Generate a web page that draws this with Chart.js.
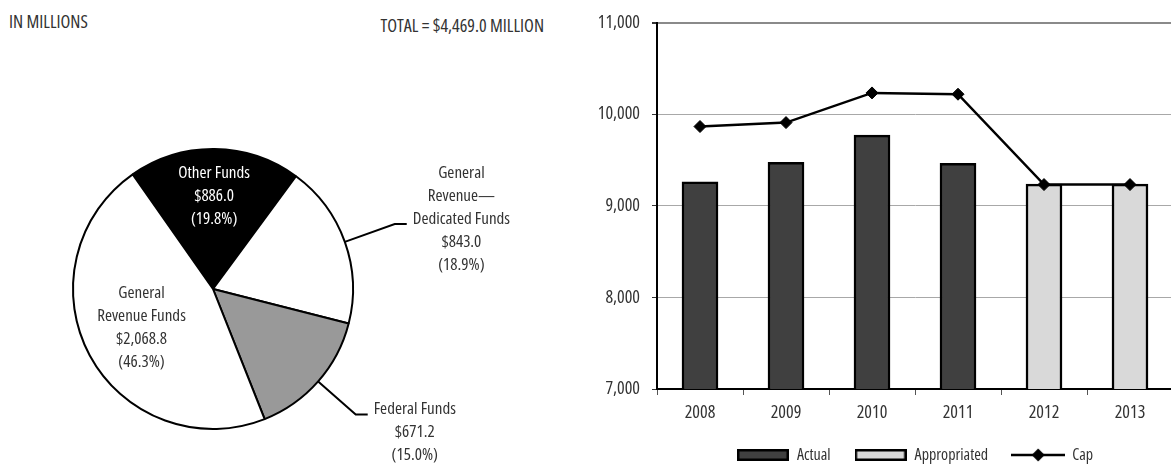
<!DOCTYPE html>
<html>
<head>
<meta charset="utf-8">
<script src="https://cdn.jsdelivr.net/npm/chart.js@4.4.1/dist/chart.umd.min.js"></script>
<style>
  html, body { margin:0; padding:0; background:#fff; overflow:hidden; width:1171px; height:465px; }
  #wrap { position:relative; width:1171px; height:465px; overflow:hidden; background:#fff; }
  canvas { position:absolute; }
  #pie { left:0; top:0; }
  #bar { left:580px; top:0; }
  .hd { position:absolute; font-family:'Open Sans',sans-serif; font-stretch:condensed; font-weight:500; font-size:18px; color:#333; white-space:nowrap; line-height:20px; }
</style>
</head>
<body>
<div id="wrap">
  <div class="hd" style="left:9px; top:11px;">IN MILLIONS</div>
  <div class="hd" id="total" style="right:627px; top:15px;"></div>
  <canvas id="pie" width="580" height="465"></canvas>
  <canvas id="bar" width="600" height="473"></canvas>
</div>
<script>
// ---------- DATA ----------
const pieCategories = ['Other Funds', 'General Revenue\u2014Dedicated Funds', 'Federal Funds', 'General Revenue Funds'];
const pieNameLines  = [['Other Funds'], ['General', 'Revenue\u2014', 'Dedicated Funds'], ['Federal Funds'], ['General', 'Revenue Funds']];
const pieValues     = [886.0, 843.0, 671.2, 2068.8];

const years         = ['2008', '2009', '2010', '2011', '2012', '2013'];
const actualValues  = [9262, 9475, 9773, 9464, null, null];
const appropValues  = [null, null, null, null, 9237, 9237];
const capValues     = [9867, 9910, 10234, 10220, 9233, 9233];
const yTickValues   = [7000, 8000, 9000, 10000, 11000];

// ---------- STYLE ----------
const FAMILY = "'Open Sans', sans-serif";
const WEIGHT = '500 condensed';
const TXT = '#333333';
Chart.defaults.font.family = FAMILY;
Chart.defaults.font.weight = WEIGHT;
Chart.defaults.color = TXT;

const fmt1 = v => v.toLocaleString('en-US', {minimumFractionDigits:1, maximumFractionDigits:1});
const pieTotal = pieValues.reduce((a, b) => a + b, 0);
document.getElementById('total').textContent = 'TOTAL = $' + fmt1(pieTotal) + ' MILLION';

// label placement styles for each slice
const pieLabelStyle = [
  {inside:true, rf:0.66, color:'#ffffff'},
  {inside:false, ext:53, hook:12, anchor:2, color:TXT},
  {inside:false, ext:50, hook:12, anchor:0, color:TXT},
  {inside:true, rf:0.58, color:TXT}
];

const pieLabelPlugin = {
  id: 'pieLabels',
  afterDraw(chart) {
    const ctx = chart.ctx;
    const meta = chart.getDatasetMeta(0);
    const LH = 23;
    ctx.save();
    ctx.font = WEIGHT + ' 17px ' + FAMILY;
    ctx.textBaseline = 'middle';
    ctx.textAlign = 'center';
    meta.data.forEach((arc, i) => {
      const p = arc.getProps(['x','y','startAngle','endAngle','outerRadius'], true);
      const mid = (p.startAngle + p.endAngle) / 2;
      const v = pieValues[i];
      const lines = pieNameLines[i].concat(['$' + fmt1(v), '(' + (v / pieTotal * 100).toFixed(1) + '%)']);
      const st = pieLabelStyle[i];
      ctx.fillStyle = st.color;
      if (st.inside) {
        const cx = p.x + Math.cos(mid) * p.outerRadius * st.rf;
        const cy = p.y + Math.sin(mid) * p.outerRadius * st.rf;
        const y0 = cy - (lines.length - 1) * LH / 2;
        lines.forEach((t, k) => ctx.fillText(t, cx, y0 + k * LH));
      } else {
        const sx = p.x + Math.cos(mid) * p.outerRadius;
        const sy = p.y + Math.sin(mid) * p.outerRadius;
        const ex = p.x + Math.cos(mid) * (p.outerRadius + st.ext);
        const ey = p.y + Math.sin(mid) * (p.outerRadius + st.ext);
        const hx = ex + st.hook;
        ctx.strokeStyle = '#000';
        ctx.lineWidth = 2;
        ctx.beginPath();
        ctx.moveTo(sx, sy); ctx.lineTo(ex, ey); ctx.lineTo(hx, ey);
        ctx.stroke();
        const aw = ctx.measureText(lines[st.anchor]).width;
        const cx = hx + 6 + aw / 2;
        const ay = ey - 5;
        lines.forEach((t, k) => ctx.fillText(t, cx, ay + (k - st.anchor) * LH));
      }
    });
    ctx.restore();
  }
};

new Chart(document.getElementById('pie'), {
  type: 'pie',
  data: {
    labels: pieCategories,
    datasets: [{
      data: pieValues,
      backgroundColor: ['#000000', '#ffffff', '#999999', '#ffffff'],
      borderColor: '#000000',
      borderWidth: 2
    }]
  },
  options: {
    responsive: false,
    animation: false,
    events: [],
    rotation: -35,
    layout: { padding: { left: 72, top: 148, right: 226, bottom: 35 } },
    plugins: { legend: { display: false }, tooltip: { enabled: false } }
  },
  plugins: [pieLabelPlugin]
});

// ---------- legend swatches ----------
function boxImg(fill) {
  const c = document.createElement('canvas');
  c.width = 52; c.height = 12;
  const x = c.getContext('2d');
  x.fillStyle = fill; x.fillRect(0, 0, 52, 12);
  x.strokeStyle = '#000'; x.lineWidth = 2.5;
  x.strokeRect(1.25, 1.25, 49.5, 9.5);
  return c;
}
function capImg() {
  const c = document.createElement('canvas');
  c.width = 54; c.height = 14;
  const x = c.getContext('2d');
  x.strokeStyle = '#000'; x.lineWidth = 2.5;
  x.beginPath(); x.moveTo(0, 7); x.lineTo(54, 7); x.stroke();
  x.fillStyle = '#000';
  x.beginPath(); x.moveTo(27, 0.5); x.lineTo(33.5, 7); x.lineTo(27, 13.5); x.lineTo(20.5, 7); x.closePath(); x.fill();
  return c;
}
const legendImgs = [boxImg('#404040'), boxImg('#d9d9d9'), capImg()];

new Chart(document.getElementById('bar'), {
  data: {
    labels: years,
    datasets: [
      { type:'bar', label:'Actual', data: actualValues, backgroundColor:'#404040', borderColor:'#000', borderWidth:2.5, borderSkipped:false, grouped:false, barThickness:36, order:2 },
      { type:'bar', label:'Appropriated', data: appropValues, backgroundColor:'#d9d9d9', borderColor:'#000', borderWidth:2.5, borderSkipped:false, grouped:false, barThickness:36, order:2 },
      { type:'line', label:'Cap', data: capValues, borderColor:'#000', borderWidth:2.5, tension:0, fill:false,
        pointStyle:'rectRot', pointRadius:6, pointBackgroundColor:'#000', pointBorderColor:'#000', pointBorderWidth:1, order:0 }
    ]
  },
  options: {
    responsive: false,
    animation: false,
    events: [],
    layout: { padding: { top: 18, right: 4, left: 0, bottom: 0 } },
    scales: {
      x: {
        afterFit: s => { s.height = 34; },
        grid: { display:true, drawOnChartArea:false, offset:true, tickLength:6, color:'#555', lineWidth:1 },
        border: { display:true, color:'#000', width:2 },
        ticks: { font: { size:18 }, color: TXT, padding: 7 }
      },
      y: {
        min: 7000, max: 11000,
        afterFit: s => { s.width = 77; },
        afterBuildTicks: s => { s.ticks = yTickValues.map(v => ({ value: v })); },
        grid: {
          color: c => c.tick && c.tick.value === 11000 ? '#8a8a8a' : (c.tick && c.tick.value === 7000 ? '#000' : '#a8a8a8'),
          lineWidth: c => c.tick && c.tick.value === 11000 ? 2 : 1,
          tickLength: 5, tickColor: '#333'
        },
        border: { display:true, color:'#000', width:2 },
        ticks: { font: { size:18 }, color: TXT, padding: 12, callback: v => Number(v).toLocaleString('en-US') }
      }
    },
    plugins: {
      tooltip: { enabled:false },
      legend: {
        position: 'bottom',
        fullSize: false,
        labels: {
          usePointStyle: true,
          pointStyleWidth: 52,
          boxHeight: 16,
          padding: 24,
          color: TXT,
          font: { size: 16 },
          generateLabels: chart => chart.data.datasets.map((ds, i) => ({
            text: ds.label,
            pointStyle: legendImgs[i],
            fillStyle: ds.backgroundColor,
            strokeStyle: '#000',
            lineWidth: 0,
            fontColor: TXT,
            hidden: !chart.isDatasetVisible(i),
            datasetIndex: i
          }))
        }
      }
    }
  }
});
</script>
</body>
</html>
